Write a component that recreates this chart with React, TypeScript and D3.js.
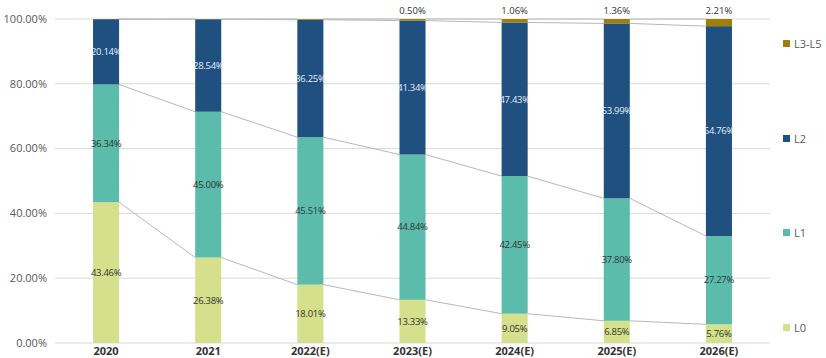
import React from "react";
import * as d3 from "d3";

const categories = ["2020", "2021", "2022(E)", "2023(E)", "2024(E)", "2025(E)", "2026(E)"];
const seriesNames = ["L0", "L1", "L2", "L3-L5"];
const L0 = [43.46, 26.38, 18.01, 13.33, 9.05, 6.85, 5.76];
const L1 = [36.34, 45.0, 45.51, 44.84, 42.45, 37.8, 27.27];
const L2 = [20.14, 28.54, 36.25, 41.34, 47.43, 53.99, 64.76];
const L3 = [0.06, 0.08, 0.23, 0.5, 1.06, 1.36, 2.21];
const showL3Label = [false, false, false, true, true, true, true];
const yTicks = [0, 20, 40, 60, 80, 100];
const colors = ["#d4e08c", "#5bbcab", "#1f5080", "#a07e08"];
const labelColors = ["#333333", "#333333", "#e6eef6", "#333333"];

const W = 826, H = 358;
const left = 55, right = 770, top = 19, bottom = 343;

export default function App() {
  const x = d3.scaleBand<string>().domain(categories).range([left, right]).paddingInner(0).paddingOuter(0);
  const y = d3.scaleLinear().domain([0, 100]).range([bottom, top]);
  const barW = x.bandwidth() * 0.255;
  const series = [L0, L1, L2, L3];
  const rows = categories.map((c, i) => ({ cat: c, L0: L0[i], L1: L1[i], L2: L2[i], "L3-L5": L3[i] }));
  const stack = d3.stack<any>().keys(seriesNames)(rows);
  const font = "'Open Sans', 'Noto Sans', sans-serif";
  const cx = (c: string) => (x(c) as number) + x.bandwidth() / 2;

  return (
    <svg width={W} height={H} style={{ position: "absolute", left: 0, top: 0, background: "#fff" }} fontFamily={font}>
      {yTicks.map((t) => (
        <g key={t}>
          <line x1={left} x2={right} y1={y(t)} y2={y(t)} stroke="#d9d9d9" strokeWidth={1} />
          <text x={47} y={y(t)} dy="0.35em" textAnchor="end" fontSize={11} fill="#595959">
            {t.toFixed(2)}%
          </text>
        </g>
      ))}
      {/* connector lines */}
      {stack.map((s, si) => (
        <g key={"c" + si}>
          {s.slice(0, -1).map((d, i) => {
            const next = s[i + 1];
            return (
              <line
                key={i}
                x1={cx(categories[i]) + barW / 2}
                x2={cx(categories[i + 1]) - barW / 2}
                y1={y(d[1])}
                y2={y(next[1])}
                stroke="#b8b8b8"
                strokeWidth={1}
              />
            );
          })}
        </g>
      ))}
      {stack.map((s, si) => (
        <g key={"b" + si}>
          {s.map((d, i) => (
            <rect
              key={i}
              x={cx(categories[i]) - barW / 2}
              y={y(d[1])}
              width={barW}
              height={y(d[0]) - y(d[1])}
              fill={colors[si]}
            />
          ))}
        </g>
      ))}
      {stack.map((s, si) => (
        <g key={"l" + si}>
          {s.map((d, i) => {
            const v = series[si][i];
            if (si === 3) {
              if (!showL3Label[i]) return null;
              return (
                <text key={i} x={cx(categories[i])} y={y(d[1]) - 5} textAnchor="middle" fontSize={9.5} fill="#333">
                  {v.toFixed(2)}%
                </text>
              );
            }
            return (
              <text
                key={i}
                x={cx(categories[i])}
                y={y((d[0] + d[1]) / 2)}
                dy="0.35em"
                textAnchor="middle"
                fontSize={9.5}
                letterSpacing={-0.3}
                fill={labelColors[si]}
              >
                {v.toFixed(2)}%
              </text>
            );
          })}
        </g>
      ))}
      {categories.map((c) => (
        <text key={c} x={cx(c)} y={355} textAnchor="middle" fontSize={11} fontWeight="bold" fill="#333">
          {c}
        </text>
      ))}
      {/* legend */}
      {[
        { name: "L3-L5", c: colors[3], yy: 44 },
        { name: "L2", c: colors[2], yy: 139 },
        { name: "L1", c: colors[1], yy: 233 },
        { name: "L0", c: colors[0], yy: 328 },
      ].map((l) => (
        <g key={l.name}>
          <rect x={783} y={l.yy - 4} width={7} height={7} fill={l.c} />
          <text x={794} y={l.yy} dy="0.35em" fontSize={11} fill="#595959">
            {l.name}
          </text>
        </g>
      ))}
    </svg>
  );
}
